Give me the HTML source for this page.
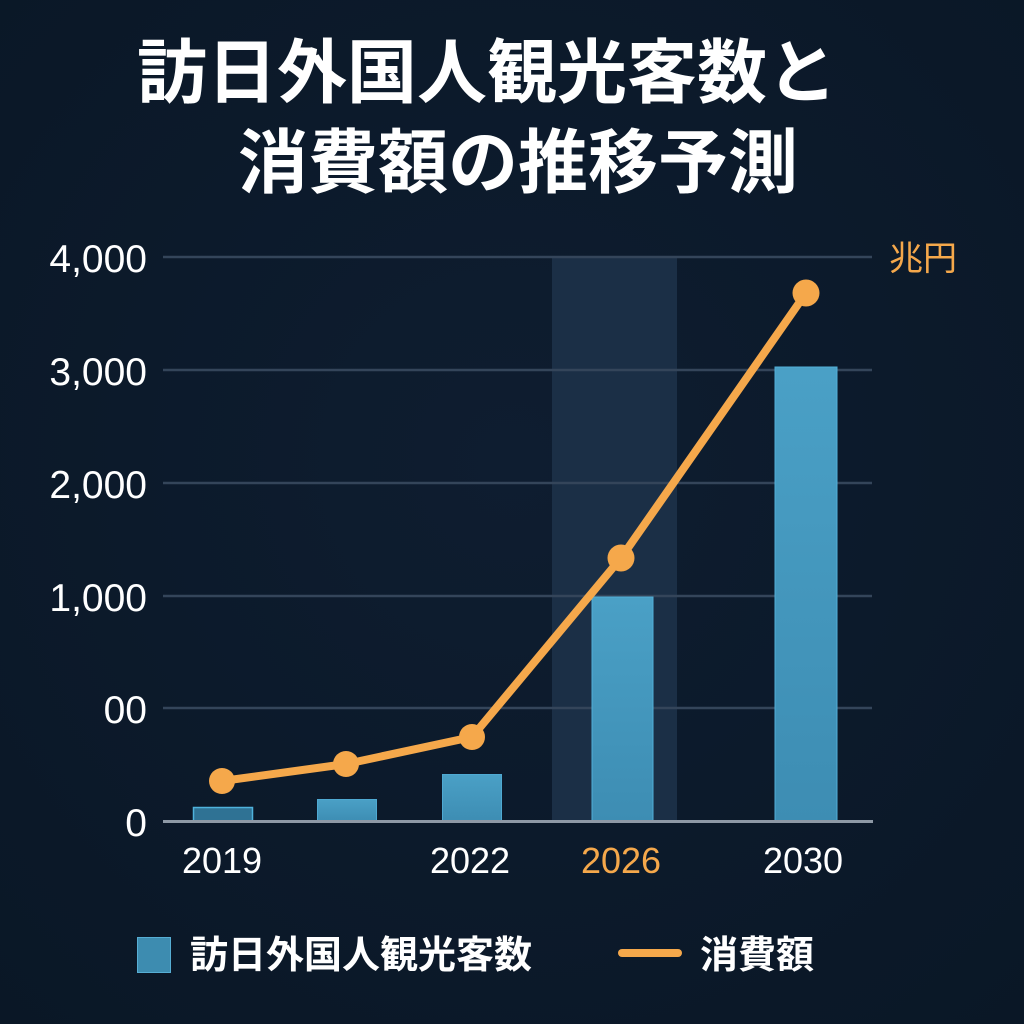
<!DOCTYPE html>
<html><head><meta charset="utf-8"><style>
html,body{margin:0;padding:0;background:#0c1a2b;}
svg{display:block;}
</style></head><body>
<svg width="1024" height="1024" viewBox="0 0 1024 1024" xmlns="http://www.w3.org/2000/svg">
<defs>
<radialGradient id="bg" cx="50%" cy="45%" r="75%">
<stop offset="0" stop-color="#0e1d30"/><stop offset="1" stop-color="#0a1726"/>
</radialGradient>
<linearGradient id="bar" x1="0" y1="0" x2="0" y2="1">
<stop offset="0" stop-color="#4aa0c6"/><stop offset="1" stop-color="#3d8db3"/>
</linearGradient>
</defs>
<rect width="1024" height="1024" fill="url(#bg)"/>
<g font-family="'Liberation Sans','Noto Sans CJK JP',sans-serif" font-weight="700" fill="#ffffff" font-size="70">
<text x="137" y="97" textLength="700">訪日外国人観光客数と</text>
<text x="238" y="187" textLength="560">消費額の推移予測</text>
</g>
<rect x="552" y="257" width="125" height="564" fill="#1b2f46"/>
<g stroke="#34455a" stroke-width="2.5">
<line x1="163" y1="257" x2="872" y2="257"/>
<line x1="163" y1="370" x2="872" y2="370"/>
<line x1="163" y1="483" x2="872" y2="483"/>
<line x1="163" y1="596" x2="872" y2="596"/>
<line x1="163" y1="708" x2="872" y2="708"/>
</g>
<rect x="193.5" y="807.5" width="59" height="14" fill="#2f7294" stroke="#4fb2dc" stroke-width="1.5"/>
<rect x="317.5" y="799.5" width="59" height="22" fill="url(#bar)" stroke="#4fa9d2" stroke-width="1"/>
<rect x="442.5" y="774.5" width="59" height="47" fill="url(#bar)" stroke="#4fa9d2" stroke-width="1"/>
<rect x="592" y="597" width="61" height="224" fill="url(#bar)" stroke="#52afd8" stroke-width="1"/>
<rect x="775" y="367" width="62" height="454" fill="url(#bar)" stroke="#52afd8" stroke-width="1"/>
<line x1="163" y1="821.5" x2="873" y2="821.5" stroke="#8e99a6" stroke-width="3"/>
<polyline points="222,781 346,764 472,737 621,558 806,293" fill="none" stroke="#f5a84b" stroke-width="8" stroke-linejoin="round" stroke-linecap="round"/>
<g fill="#f5a84b">
<circle cx="222" cy="781" r="13"/>
<circle cx="346" cy="764" r="13"/>
<circle cx="472" cy="737" r="13"/>
<circle cx="621" cy="558" r="13.5"/>
<circle cx="806" cy="293" r="13.5"/>
</g>
<g font-family="'Liberation Sans',sans-serif" font-size="39" fill="#ffffff" text-anchor="end">
<text x="147" y="272">4,000</text>
<text x="147" y="385">3,000</text>
<text x="147" y="498">2,000</text>
<text x="147" y="611">1,000</text>
<text x="147" y="723">00</text>
<text x="147" y="836">0</text>
</g>
<g font-family="'Liberation Sans',sans-serif" font-size="36" fill="#ffffff" text-anchor="middle">
<text x="222" y="873">2019</text>
<text x="470" y="873">2022</text>
<text x="621" y="873" fill="#f5a84b">2026</text>
<text x="803" y="873">2030</text>
</g>
<text x="889" y="270" font-family="'Liberation Sans','Noto Sans CJK JP',sans-serif" font-size="34" fill="#f5a84b">兆円</text>
<rect x="137.5" y="937.5" width="33" height="35" fill="#3d8cb0" stroke="#57aed4" stroke-width="1"/>
<g font-family="'Liberation Sans','Noto Sans CJK JP',sans-serif" font-weight="700" font-size="38" fill="#ffffff">
<text x="190" y="968">訪日外国人観光客数</text>
<text x="700" y="968">消費額</text>
</g>
<line x1="622" y1="953" x2="678" y2="953" stroke="#f5a84b" stroke-width="8" stroke-linecap="round"/>
</svg>
</body></html>
